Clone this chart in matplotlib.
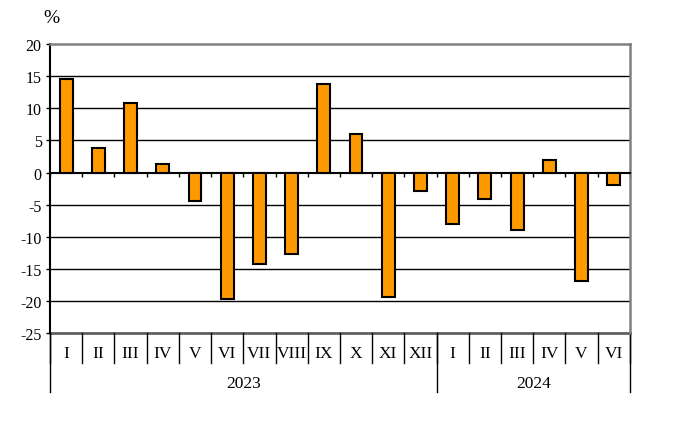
import matplotlib.pyplot as plt
import matplotlib.transforms as mtransforms
import numpy as np

# data
months = ['I', 'II', 'III', 'IV', 'V', 'VI', 'VII', 'VIII', 'IX', 'X', 'XI', 'XII',
          'I', 'II', 'III', 'IV', 'V', 'VI']
values = [14.5, 3.8, 10.8, 1.3, -4.5, -19.7, -14.2, -12.7, 13.7, 6.0, -19.4, -2.9,
          -8.0, -4.1, -8.9, 2.0, -16.9, -2.0]
years = ['2023', '2024']
year_counts = [12, 6]
yticks = [-25, -20, -15, -10, -5, 0, 5, 10, 15, 20]

plt.rcParams['font.family'] = ['Liberation Serif', 'DejaVu Serif']

fig = plt.figure(figsize=(6.87, 4.27), dpi=100)
ax = fig.add_axes([0.0728, 0.217, 0.844, 0.678])

x = np.arange(len(values))
ax.bar(x, values, width=0.4, color='#FF9900', edgecolor='black', linewidth=1.5, zorder=3)

ax.set_xlim(-0.5, len(values) - 0.5)
ax.set_ylim(-25, 20)
ax.set_yticks(yticks)
ax.set_yticklabels([str(v) for v in yticks], fontsize=11.5)
ax.tick_params(axis='y', direction='out', length=3, width=1, pad=3)

# gridlines
for v in yticks[1:-1]:
    if v != 0:
        ax.axhline(v, color='black', lw=1, zorder=1)

# frame
for s in ['top', 'right']:
    ax.spines[s].set_color('#808080')
    ax.spines[s].set_linewidth(1.8)
ax.spines['left'].set_color('black')
ax.spines['left'].set_linewidth(1.5)
ax.spines['bottom'].set_position(('data', 0))
ax.spines['bottom'].set_linewidth(1.5)
ax.axhline(-25, color='#606060', lw=2, zorder=2, clip_on=False)

# x ticks at category boundaries on zero line
ax.set_xticks(np.arange(-0.5, len(values), 1.0))
ax.set_xticklabels([])
ax.tick_params(axis='x', direction='out', length=3, width=1)

# category labels area below
trans = mtransforms.blended_transform_factory(ax.transData, ax.transAxes)
for i, m in enumerate(months):
    ax.text(i, -0.068, m, transform=trans, ha='center', va='center', fontsize=12.5)
for b in np.arange(-0.5, len(values), 1.0):
    ax.plot([b, b], [0, -0.104], transform=trans, color='black', lw=1, clip_on=False)

start = -0.5
for yr, n in zip(years, year_counts):
    ax.text(start + n / 2, -0.172, yr, transform=trans, ha='center', va='center', fontsize=12.5)
    ax.plot([start, start], [0, -0.204], transform=trans, color='black', lw=1, clip_on=False)
    start += n
ax.plot([start, start], [0, -0.204], transform=trans, color='black', lw=1, clip_on=False)

fig.text(0.0626, 0.957, '%', ha='left', va='center', fontsize=14)

fig.savefig('out.png', dpi=100)
